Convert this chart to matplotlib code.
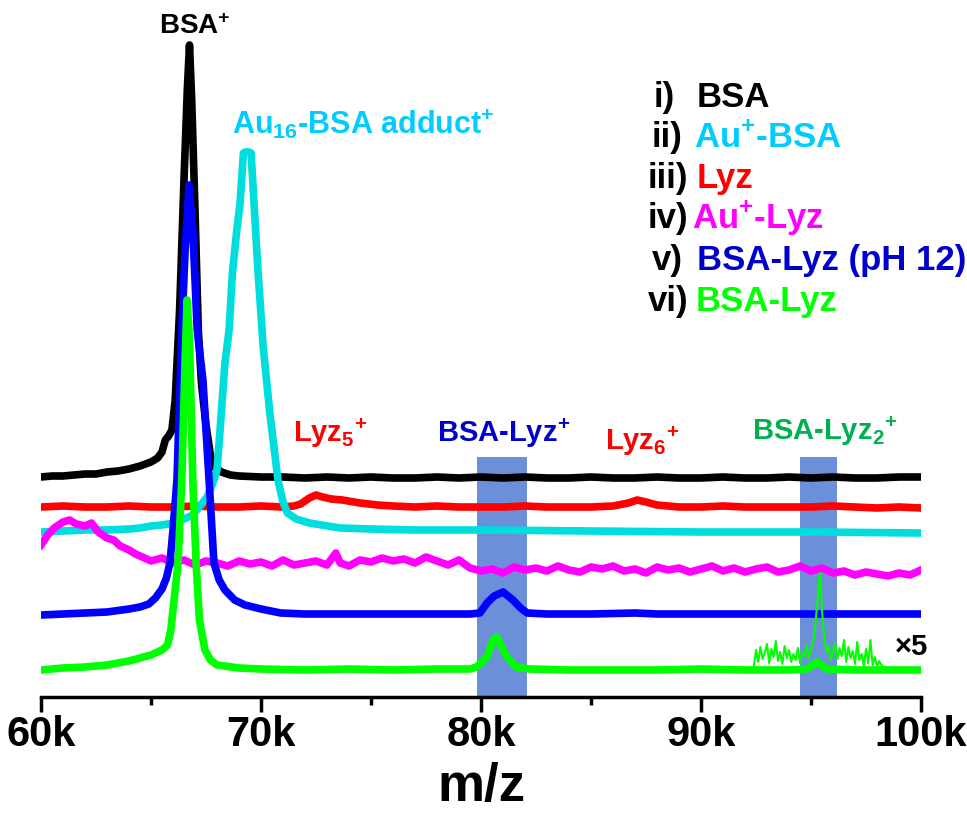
import numpy as np
import matplotlib.pyplot as plt

plt.rcParams['font.family'] = ['Liberation Sans', 'DejaVu Sans']
plt.rcParams['font.weight'] = 'bold'
plt.rcParams['mathtext.fontset'] = 'custom'
plt.rcParams['mathtext.rm'] = 'Liberation Sans:bold'
plt.rcParams['mathtext.default'] = 'rm'

# === Spectra (m/z in k, intensity incl. stacking offset, arbitrary units) ===
bsa_x = [60.0, 60.5, 61, 61.5, 62, 62.5, 63, 63.5, 64, 64.5, 65, 65.3, 65.5, 65.65, 65.8, 65.95,
         66.1, 66.3, 66.5, 66.65, 66.75, 66.85, 67.0, 67.15, 67.3, 67.5, 67.7, 67.9, 68.2, 68.6,
         69, 70, 71, 72, 73, 74, 75, 76, 77, 78, 79, 80, 81, 82, 83, 84, 85, 86, 87, 88, 89, 90,
         91, 92, 93, 94, 95, 96, 97, 98, 99, 100]
bsa_y = [220, 221, 221, 222, 223, 223, 225, 226, 228, 231, 235, 239, 245, 257, 261, 267,
         297, 387, 517, 607, 652, 597, 487, 367, 312, 272, 242, 230, 225, 222,
         221, 220, 220, 219, 220, 219, 220, 219, 219, 220, 219, 220, 219, 220, 219, 219, 220, 219,
         219, 220, 219, 219, 220, 219, 219, 220, 219, 220, 219, 219, 220, 220]

lyz_x = [60, 61, 62, 63, 64, 65, 66, 67, 68, 69, 70, 71, 71.5, 71.8, 72.2, 72.5, 72.8, 73.2, 73.7,
         74.5, 75.3, 76, 77, 78, 79, 80, 81, 82, 83, 84, 85, 86, 86.7, 87.1, 87.5, 88, 89, 90,
         91, 92, 93, 94, 95, 96, 97, 98, 99, 100]
lyz_y = [190, 191, 190, 190, 191, 190, 190, 191, 190, 190, 191, 190, 191, 193, 199, 202, 200, 198, 197,
         194, 192, 191, 190, 191, 190, 190, 190, 191, 190, 190, 190, 191, 194, 197, 195, 192, 190, 190,
         191, 190, 190, 190, 190, 191, 190, 189, 190, 189]

aubsa_x = [60.0, 61, 62, 63, 64, 64.5, 65, 65.5, 66, 66.5, 66.9, 67.2, 67.55, 67.8, 68.0, 68.14,
           68.36, 68.55, 68.7, 68.9, 69.05, 69.2, 69.3, 69.45, 69.55, 69.7, 69.86, 70.1, 70.4,
           70.77, 71.0, 71.2, 71.6, 72.2, 73.6, 75, 77, 80, 85, 90, 95, 100]
aubsa_y = [165, 166, 167, 167, 168, 169, 171, 172, 174, 178, 182, 190, 200, 213, 227, 267,
           334, 367, 424, 467, 494, 544, 545, 545, 544, 487, 427, 350, 284,
           217, 195, 184, 178, 174, 169, 168, 167, 167, 166, 165, 165, 164]

aulyz_x = [60.0, 60.3, 60.6, 61.0, 61.3, 61.6, 62.0, 62.3, 62.6, 63.0, 63.3, 63.6, 64.0, 64.3, 64.6,
           65.0, 65.5, 66.0, 66.5, 67.0, 67.5, 68.0, 68.5, 69.0, 69.5, 70, 70.5, 71, 71.5, 72,
           72.5, 73, 73.4, 73.6, 74, 74.5, 75, 75.5, 76, 76.5, 77, 77.5, 78, 78.5, 79, 79.5, 80,
           80.5, 81, 81.5, 82, 82.5, 83, 83.5, 84, 84.5, 85, 85.5, 86, 86.5, 87, 87.5, 88, 88.5,
           89, 89.5, 90, 90.5, 91, 91.5, 92, 92.5, 93, 93.5, 94, 94.5, 95, 95.5, 96, 96.5, 97,
           97.5, 98, 98.5, 99, 99.5, 100]
aulyz_y = [152, 162, 169, 175, 177, 173, 171, 174, 165, 159, 157, 151, 147, 143, 140,
           136, 139, 134, 137, 132, 136, 134, 131, 136, 133, 135, 131, 137, 132, 134,
           136, 132, 144, 134, 131, 137, 135, 139, 136, 138, 134, 140, 136, 132, 137, 129, 126,
           128, 124, 130, 127, 129, 126, 131, 127, 125, 130, 128, 131, 126, 128, 124, 130, 127,
           129, 125, 128, 131, 126, 129, 125, 128, 130, 125, 127, 131, 126, 129, 124, 126, 122,
           125, 123, 121, 124, 122, 127]

ph12_x = [60.0, 61, 62, 63, 64, 64.5, 64.9, 65.2, 65.5, 65.7, 65.86, 66.0, 66.18, 66.4, 66.55,
          66.73, 66.9, 67.1, 67.36, 67.64, 67.86, 68.1, 68.36, 68.8, 69.27, 70, 70.9, 72, 74, 76,
          78, 79.5, 79.95, 80.27, 80.6, 81.0, 81.45, 81.8, 82.1, 83, 85, 87, 88, 90, 92, 94, 96,
          98, 100]
ph12_y = [82, 83, 84, 85, 88, 90, 93, 99, 108, 119, 134, 167, 217, 367, 447,
          512, 467, 367, 317, 217, 134, 117, 107, 97, 92, 88, 84, 83, 83, 83,
          83, 83, 84, 94, 101, 105, 97, 89, 84, 83, 83, 84, 83, 83, 83, 83, 83,
          83, 83]

mix_x = [60.0, 61, 62, 63, 64, 64.5, 65.0, 65.5, 65.75, 65.9, 66.05, 66.23, 66.4, 66.55, 66.64,
         66.75, 66.9, 67.05, 67.2, 67.45, 67.7, 68.0, 69.0, 70, 72, 74, 76, 78, 79.5, 79.8,
         80.27, 80.55, 80.73, 80.9, 81.18, 81.6, 82.2, 84, 86, 88, 90, 92, 94, 94.8, 95.3, 95.7,
         97, 100]
mix_y = [27, 29, 30, 32, 36, 39, 42, 47, 52, 67, 97, 134, 217, 337, 397,
         357, 217, 134, 77, 47, 37, 32, 29, 28, 27, 28, 27, 28, 28, 30,
         40, 57, 60, 52, 40, 30, 28, 27, 27, 27, 28, 27, 27, 28, 35, 28,
         27, 27]

# x5 magnified section of trace vi)
zoom_x = np.linspace(92.4, 98.3, 60)
zoom_y = [31, 47, 35, 50, 38, 44, 53, 34, 48, 40, 56, 36, 45, 33, 51, 39, 47, 35, 43, 37,
          49, 34, 45, 40, 52, 38, 48, 55, 72, 98, 124, 86, 60, 44, 51, 36, 46, 54, 38, 49,
          41, 57, 35, 50, 39, 46, 33, 55, 37, 43, 31, 48, 34, 57, 32, 40, 31, 36, 32, 30]

bands = [(79.8, 82.1), (94.5, 96.2)]
band_top = 240

numerals = ['i)', 'ii)', 'iii)', 'iv)', 'v)', 'vi)']
names = ['BSA', 'Au$^{+}$-BSA', 'Lyz', 'Au$^{+}$-Lyz', 'BSA-Lyz (pH 12)', 'BSA-Lyz']
name_colors = ['black', '#00CCFF', '#FF0000', '#FF00FF', '#0000CC', '#00FF00']

# === Plot ===
fig = plt.figure(figsize=(9.67, 8.18), dpi=100)
ax = fig.add_axes([41 / 967, 121 / 818, 880 / 967, 697 / 818])

for x0, x1 in bands:
    ax.fill_between([x0, x1], 0, band_top, color='#6C8FD9', lw=0, zorder=1)

lw = 5.5
ax.plot(bsa_x, bsa_y, color='black', lw=lw, zorder=2)
ax.plot(lyz_x, lyz_y, color='#FF0000', lw=lw, zorder=2)
ax.plot(aubsa_x, aubsa_y, color='#00DDDD', lw=lw, zorder=2)
ax.plot(aulyz_x, aulyz_y, color='#FF00FF', lw=lw, zorder=2)
ax.plot(ph12_x, ph12_y, color='#0000FF', lw=lw, zorder=2)
ax.plot(mix_x, mix_y, color='#00FF00', lw=lw, zorder=2)
ax.plot(zoom_x, zoom_y, color='#00FF00', lw=1.5, zorder=3)

# peak labels
ax.text(67.0, 670, 'BSA$^{+}$', color='black', fontsize=20, ha='center', va='center')
ax.text(68.68, 573, 'Au$_{16}$-BSA adduct$^{+}$', color='#00CCFF', fontsize=22, ha='left', va='center')
ax.text(71.45, 255, 'Lyz$_{5}$$^{+}$', color='#FF0000', fontsize=21, ha='left', va='baseline')
ax.text(78.0, 255, 'BSA-Lyz$^{+}$', color='#0000CC', fontsize=21, ha='left', va='baseline')
ax.text(85.64, 247, 'Lyz$_{6}$$^{+}$', color='#FF0000', fontsize=21, ha='left', va='baseline')
ax.text(92.32, 257, 'BSA-Lyz$_{2}$$^{+}$', color='#00B050', fontsize=21, ha='left', va='baseline')
ax.text(98.8, 42, '×5', color='black', fontsize=21, ha='left', va='baseline')

# legend-like labels (hand aligned as in the figure)
row_y = [590, 550, 509, 469, 427, 386]
num_right = [88.82, 89.14, 89.41, 89.41, 89.18, 89.41]
name_left = [89.82, 89.68, 89.82, 89.59, 89.82, 89.77]
for num, name, c, yy, xr, xl in zip(numerals, names, name_colors, row_y, num_right, name_left):
    ax.text(xr, yy, num, color='black', fontsize=25, ha='right', va='baseline')
    ax.text(xl, yy, name, color=c, fontsize=25, ha='left', va='baseline')

ax.set_xlim(60, 100)
ax.set_ylim(0, 697)
for s in ['left', 'right', 'top']:
    ax.spines[s].set_visible(False)
ax.spines['bottom'].set_linewidth(2.5)
ax.set_yticks([])
ax.set_xticks([60, 70, 80, 90, 100])
ax.set_xticklabels(['60k', '70k', '80k', '90k', '100k'], fontsize=30)
ax.set_xticks([65, 75, 85, 95], minor=True)
ax.tick_params(axis='x', which='major', length=11, width=2.5, pad=2)
ax.tick_params(axis='x', which='minor', length=6, width=2.5)
ax.set_xlabel('m/z', fontsize=38, fontweight='bold', labelpad=5)

fig.savefig('out.png', dpi=100)
